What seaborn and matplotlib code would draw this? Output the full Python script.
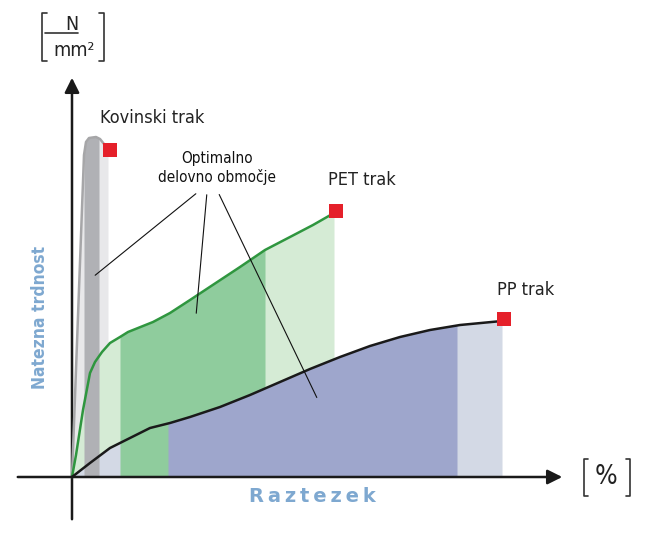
import numpy as np
import pandas as pd
import matplotlib.pyplot as plt
import seaborn as sns

# stress-strain curves (schematic units, origin at axis crossing)
metal_x = [0, 12, 14, 17, 24, 28, 32, 36]
metal_y = [0, 322, 335, 339, 340, 338, 333, 325]
pet_x = [0, 4, 11, 18, 23, 30, 38, 48, 56, 81, 98, 118, 168, 193, 218, 241, 262]
pet_y = [0, 22, 67, 104, 115, 125, 134, 140, 145, 155, 164, 177, 210, 227, 240, 252, 264]
pp_x = [0, 18, 38, 58, 78, 98, 118, 148, 178, 208, 238, 268, 298, 328, 358, 388, 430]
pp_y = [0, 14, 29, 39, 49, 54, 60, 70, 82, 95, 108, 120, 131, 140, 147, 152, 156]

# optimal working zones (start, end)
metal_zone = (12, 27)
pet_zone = (48, 193)
pp_zone = (96, 385)

names = ['Kovinski trak', 'PET trak', 'PP trak']

sns.set_theme(style='white')
plt.rcParams['font.family'] = ['DejaVu Sans']
plt.rcParams['font.stretch'] = 'condensed'

fig = plt.figure(figsize=(6.5, 5.39), dpi=100)
ax = fig.add_axes([0, 0, 1, 1])
ax.set_xlim(-72, 578)
ax.set_ylim(-62, 477)
ax.axis('off')


def fill_zone(xs, ys, lo, hi, color, z):
    grid = np.linspace(lo, hi, 200)
    ax.fill_between(grid, 0, np.interp(grid, xs, ys), color=color, lw=0, zorder=z)


# light fills = whole curve, dark fills = optimal zone
fill_zone(metal_x, metal_y, 0, metal_x[-1], '#e8e8ea', 1)
fill_zone(pet_x, pet_y, 0, pet_x[-1], '#d5ebd5', 2)
fill_zone(pp_x, pp_y, 0, pp_x[-1], '#d3d9e5', 3)
fill_zone(pet_x, pet_y, *pet_zone, '#8fcc9d', 4)
fill_zone(pp_x, pp_y, *pp_zone, '#9ea6cc', 5)
fill_zone(metal_x, metal_y, *metal_zone, '#b0b1b5', 6)

curves = pd.concat([
    pd.DataFrame({'x': metal_x, 'y': metal_y, 'trak': names[0]}),
    pd.DataFrame({'x': pet_x, 'y': pet_y, 'trak': names[1]}),
    pd.DataFrame({'x': pp_x, 'y': pp_y, 'trak': names[2]}),
])
pal = {names[0]: '#a6a6a8', names[1]: '#2f963f', names[2]: '#1a1a1a'}
sns.lineplot(data=curves, x='x', y='y', hue='trak', palette=pal, sort=False,
             estimator=None, lw=1.8, legend=False, ax=ax, zorder=8)

ends = pd.DataFrame({'x': [metal_x[-1], pet_x[-1], pp_x[-1]],
                     'y': [metal_y[-1], pet_y[-1], pp_y[-1]]})
ax.scatter(ends['x'] + 2, ends['y'] + 2, marker='s', s=95, color='#e5202a', lw=0, zorder=9)

# axes arrows
ax.annotate('', xy=(0, 402), xytext=(0, -45),
            arrowprops=dict(arrowstyle='-|>', mutation_scale=22, lw=1.8, color='#1a1a1a'))
ax.annotate('', xy=(493, 0), xytext=(-57, 0),
            arrowprops=dict(arrowstyle='-|>', mutation_scale=22, lw=1.8, color='#1a1a1a'), zorder=10)


def bracket(x, top, bot, d):
    ax.plot([x + d, x, x, x + d], [top, top, bot, bot], color='#333333', lw=1.2)


# unit labels
bracket(-30, 464, 416, 5)
bracket(32, 464, 416, -5)
ax.plot([-27, 6], [444, 444], color='#333333', lw=1.2)
ax.text(0, 453, 'N', ha='center', va='center', fontsize=14, color='#222222')
ax.text(2, 427, 'mm²', ha='center', va='center', fontsize=14, color='#222222')
bracket(512, 18, -19, 4)
bracket(558, 18, -19, -4)
ax.text(534, 0, '%', ha='center', va='center', fontsize=19, color='#222222')

# curve names
ax.text(28, 359, names[0], ha='left', va='center', fontsize=13, color='#222222')
ax.text(256, 297, names[1], ha='left', va='center', fontsize=13, color='#222222')
ax.text(425, 187, names[2], ha='left', va='center', fontsize=13, color='#222222')

# optimal zone callout
ax.text(145, 319, 'Optimalno', ha='center', va='center', fontsize=11, color='#111111')
ax.text(145, 300, 'delovno območje', ha='center', va='center', fontsize=11, color='#111111')
for start, target in [((126, 285), (21, 200)), ((135, 285), (124, 161)), ((146, 285), (246, 77))]:
    ax.annotate('', xy=target, xytext=start,
                arrowprops=dict(arrowstyle='-', lw=0.8, color='#111111'), zorder=10)

# axis titles
ax.text(-32, 160, 'Natezna trdnost', rotation=90, ha='center', va='center',
        fontsize=12.5, fontweight='bold', color='#7ea8d0')
ax.text(240, -20, '\u2009'.join('Raztezek'), ha='center', va='center',
        fontsize=14, fontweight='bold', color='#7ea8d0', fontstretch='normal')

fig.savefig('out.png', dpi=100)
